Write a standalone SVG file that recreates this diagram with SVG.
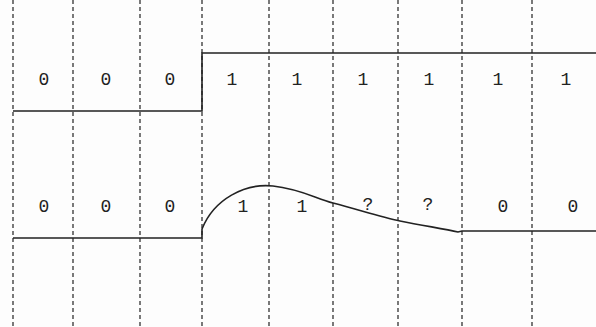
<svg xmlns="http://www.w3.org/2000/svg" width="596" height="327" viewBox="0 0 596 327">
<style>
.grid{stroke:#333;stroke-width:1.3;stroke-dasharray:4 3;fill:none}
.sig{stroke:#222;stroke-width:1.6;fill:none}
.t{font-family:"Liberation Mono","DejaVu Sans Mono",monospace;font-size:18px;fill:#222;text-anchor:middle;dominant-baseline:central}
</style>
<rect width="596" height="327" fill="#fdfdfd"/>
<g id="grid">
<line class="grid" x1="13" y1="0" x2="13" y2="327"/>
<line class="grid" x1="73" y1="0" x2="73" y2="327"/>
<line class="grid" x1="140" y1="0" x2="140" y2="327"/>
<line class="grid" x1="202" y1="0" x2="202" y2="327"/>
<line class="grid" x1="269" y1="0" x2="269" y2="327"/>
<line class="grid" x1="333" y1="0" x2="333" y2="327"/>
<line class="grid" x1="398" y1="0" x2="398" y2="327"/>
<line class="grid" x1="462" y1="0" x2="462" y2="327"/>
<line class="grid" x1="532" y1="0" x2="532" y2="327"/>
</g>
<g id="signal-top">
<path class="sig" d="M13,111 H202 V53 H596"/>
</g>
<g id="signal-bottom">
<path class="sig" d="M13,238 H202 V229 C214,199 245,183 273,186 C300,189 315,198 333,203 C360,210 380,217 400,221 C425,226 445,229 458,232 L462,231 H596"/>
</g>
<g id="labels-top">
<text class="t" x="44" y="80">0</text>
<text class="t" x="106" y="80">0</text>
<text class="t" x="170" y="80">0</text>
<text class="t" x="232" y="80">1</text>
<text class="t" x="297" y="80">1</text>
<text class="t" x="363" y="80">1</text>
<text class="t" x="429" y="80">1</text>
<text class="t" x="498" y="80">1</text>
<text class="t" x="566" y="80">1</text>
</g>
<g id="labels-bottom">
<text class="t" x="44" y="207">0</text>
<text class="t" x="106" y="207">0</text>
<text class="t" x="170" y="207">0</text>
<text class="t" x="243" y="207">1</text>
<text class="t" x="302" y="207">1</text>
<text class="t" x="368" y="205">?</text>
<text class="t" x="428" y="205">?</text>
<text class="t" x="503" y="207">0</text>
<text class="t" x="573" y="207">0</text>
</g>
</svg>
